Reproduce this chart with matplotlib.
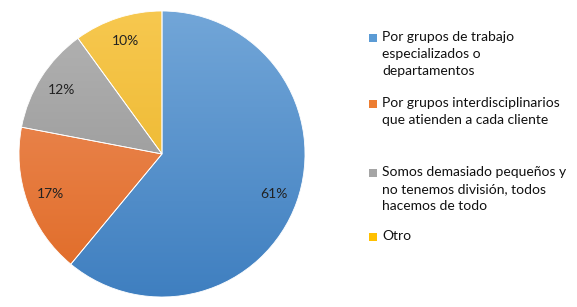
import numpy as np
import matplotlib
matplotlib.use("Agg")
import matplotlib.pyplot as plt
from matplotlib.patches import Rectangle

# data
labels = ["Por grupos de trabajo\nespecializados o\ndepartamentos",
          "Por grupos interdisciplinarios\nque atienden a cada cliente",
          "Somos demasiado pequeños y\nno tenemos división, todos\nhacemos de todo",
          "Otro"]
values = [61, 17, 12, 10]
pct_labels = ["61%", "17%", "12%", "10%"]
colors = ["#5B9BD5", "#ED7D31", "#A5A5A5", "#FFC000"]
# light (top) / dark (bottom) shades for the excel-like gradient
tops = ["#72a6d8", "#ee9160", "#b3b3b3", "#f7c84f"]
bottoms = ["#3f7fc0", "#e06a25", "#8e8e8e", "#e8b020"]

plt.rcParams['font.family'] = ['Lato', 'DejaVu Sans']

W, H = 577, 307
fig = plt.figure(figsize=(W / 100, H / 100), dpi=100)
fig.patch.set_facecolor("white")

cx, cy, r = 162, 154, 143
ax = fig.add_axes([(cx - r) / W, (H - cy - r) / H, 2 * r / W, 2 * r / H])
wedges, texts, autotexts = ax.pie(values, colors=colors, startangle=90, counterclock=False,
                                  radius=1, autopct="%1.0f%%", pctdistance=0.83,
                                  wedgeprops=dict(linewidth=0.6, edgecolor="white"),
                                  textprops=dict(fontsize=10, color="#222222"))
for t, s in zip(autotexts, pct_labels):
    t.set_text(s)

# gradient fill in each wedge
grad = np.linspace(0, 1, 256).reshape(-1, 1)
for w, c1, c2 in zip(wedges, tops, bottoms):
    c1 = np.array(matplotlib.colors.to_rgb(c1))
    c2 = np.array(matplotlib.colors.to_rgb(c2))
    img = c1[None, None, :] * (1 - grad[:, :, None]) + c2[None, None, :] * grad[:, :, None]
    im = ax.imshow(img, extent=[-1, 1, -1, 1], origin="upper", aspect="auto", zorder=w.get_zorder() - 0.1)
    im.set_clip_path(w)
    w.set_facecolor("none")

ax.set_xlim(-1, 1)
ax.set_ylim(-1, 1)
ax.set_aspect("equal")
ax.axis("off")

# legend drawn by hand (excel spacing)
tops_px = [29, 95, 164, 228]
line_h = 17
for lab, col, ty in zip(labels, colors, tops_px):
    fig.patches.append(Rectangle((369 / W, 1 - (ty + 13) / H), 8 / W, 8 / H,
                                 transform=fig.transFigure, facecolor=col, edgecolor="none"))
    for i, line in enumerate(lab.split("\n")):
        fig.text(382 / W, 1 - (ty + 8 + i * line_h) / H, line, fontsize=10,
                 va="center", ha="left", color="#111111")

fig.savefig("out.png", dpi=100)
